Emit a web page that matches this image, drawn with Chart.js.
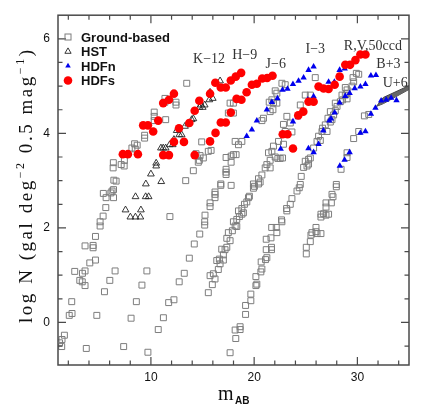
<!DOCTYPE html>
<html>
<head>
<meta charset="utf-8">
<title>Galaxy number counts</title>
<script src="https://cdn.jsdelivr.net/npm/chart.js@4.4.1/dist/chart.umd.min.js"></script>
<style>
  html, body { margin: 0; padding: 0; background: #fff; }
  #wrap { width: 436px; height: 419px; }
  canvas { display: block; }
</style>
</head>
<body>
<div id="wrap"><canvas id="countsChart" width="436" height="419"></canvas></div>
<script>
// axis ticks
const xTickLabels = [10, 20, 30];
const yTickLabels = [0, 2, 4, 6];
const xTickMarks = [2, 4, 6, 8, 10, 12, 14, 16, 18, 20, 22, 24, 26, 28, 30, 32, 34];
const yTickMarks = [-0.5, 0, 0.5, 1, 1.5, 2, 2.5, 3, 3.5, 4, 4.5, 5, 5.5, 6];

// ground-based counts [m_AB, log N]
const groundLeft = [
  [1.15,-0.43],[1.36,-0.51],[1.39,-0.36],[1.62,-0.27],[2.09,0.15],[2.36,0.19],[2.33,0.44],[2.62,1.08],
  [3.11,0.89],[3.35,0.86],[3.62,0.78],[3.62,1.09],[3.37,1.04],[3.62,1.62],[4.40,1.63],[4.40,1.58],
  [4.63,1.82],[4.08,1.26],[4.63,1.32],[5.08,2.04],[5.08,2.13],[5.37,2.25],[5.63,2.43],[5.39,2.73],
  [5.66,2.64],[6.12,2.74],[6.24,2.78],[6.38,2.81],[6.38,2.64],[6.41,3.01],[6.63,2.99],[6.36,3.38],
  [6.34,3.27],[7.12,3.34],[7.43,3.43],[7.41,3.31],[8.16,3.69],[8.42,3.78],[8.67,3.75],[8.48,3.67],
  [9.39,3.96],[9.39,3.90],[10.32,4.36],[10.32,4.45],[10.32,4.27],[11.43,4.29],[11.36,4.74],[11.36,4.66],
  [12.43,4.66],[12.43,4.60],[13.47,5.06],
  [3.74,-0.55],[4.76,0.15],[5.50,0.65],[6.02,0.89],[6.53,1.09],
  [7.36,-0.51],[8.08,0.09],[8.59,0.44],[9.13,0.79],[9.61,1.09],
  [9.71,-0.63],[10.71,-0.15],[11.21,0.10],[11.72,0.42],[12.23,0.48],[12.74,0.86],[13.23,1.04],
  [13.72,1.36],[14.20,1.66],[14.73,1.87],[15.21,2.06],[15.21,2.13],[15.24,2.27],[15.73,2.45],[15.73,2.53],
  [11.84,2.24],[13.37,3.00],[14.11,3.21],[14.59,3.39]
];
const groundMiddle = [
  [14.37,3.57],[14.76,3.53],[14.69,3.43],[15.08,3.48],[14.92,3.82],[15.56,3.62],[15.83,3.64],
  [17.28,3.49],[17.77,3.52],[17.77,3.39],[18.25,3.55],[17.28,3.24],[17.28,3.18],[17.28,3.13],
  [17.77,2.90],[16.77,2.93],[16.77,2.90],[16.21,2.76],[16.21,2.71],[16.21,2.64],
  [18.16,3.83],[18.48,3.76],[18.81,3.83],[17.99,3.55],
  [17.50,4.43],[17.99,4.43],[17.67,4.64],[17.99,4.64],
  [20.75,4.27],[20.90,4.32],[21.55,4.46],[21.82,4.50],[21.87,4.65],[22.20,4.64],[22.04,4.90],
  [22.69,5.06],[21.46,4.66],[21.72,4.71],[22.20,4.85],[23.01,5.03],
  [22.84,4.19],[23.50,4.22],[23.01,4.04],[23.66,4.03],[22.36,3.83],[22.84,3.77],[21.87,3.73],
  [21.72,3.62],[21.39,3.59],[22.04,3.50],[22.52,3.47],[21.55,3.43],[23.17,4.36],
  [15.56,0.63],[15.95,0.80],[15.73,0.99],[16.05,1.03],[16.21,0.92],[16.53,1.12],[16.38,1.31],
  [16.63,1.34],[17.02,1.32],[16.70,1.24],[16.86,1.55],[17.18,1.54],[17.35,1.59],[17.02,1.43],
  [17.35,1.78],[17.67,1.73],[17.50,1.90],[17.89,1.94],[18.32,2.03],[17.99,2.13],[18.16,2.04],
  [18.32,2.18],[18.57,2.24],[18.81,2.29],[18.96,2.32],[18.48,2.36],[18.81,2.41],[19.06,2.50],
  [19.29,2.55],[19.45,2.64],[19.54,2.67],[19.93,2.84],[20.03,2.88],[20.42,2.93],[19.93,2.93],
  [20.42,3.04],[20.75,3.12],[20.58,2.97],[21.07,3.27],[21.23,3.34],[21.55,3.27],[22.30,3.47],[22.75,3.48]
];
const groundRight = [
  [17.67,-0.64],[18.22,-0.34],[18.16,-0.16],[18.64,-0.15],[18.64,-0.09],[19.17,0.17],[19.17,0.36],
  [19.68,0.46],[19.68,0.60],[20.17,0.78],[20.26,0.81],[20.17,0.97],[20.65,1.07],[20.75,1.13],
  [20.68,1.28],[21.10,1.33],[21.23,1.37],[21.17,1.54],[21.68,1.59],[21.68,1.54],[21.17,1.76],
  [21.63,1.79],[21.70,2.01],[22.14,2.01],[22.20,1.90],[22.65,2.17],[22.69,2.13],[23.14,2.41],
  [23.17,2.36],[23.50,2.50],[23.66,2.62],[24.15,2.78],[24.37,2.85],[24.47,2.92],[24.56,3.09],
  [24.79,3.28],[25.12,3.31],[25.27,3.35],[24.95,3.41],[25.44,3.48],[25.27,3.45],
  [25.76,3.69],[26.09,3.83],[26.41,3.85],[26.24,3.94],[26.57,4.04],[26.63,4.11],[26.89,4.18],
  [27.06,4.04],[27.38,4.24],[27.54,4.29],[27.15,4.32],[27.70,4.39],[27.86,4.48],[27.38,4.46],
  [28.03,4.57],[27.86,4.64],[28.35,4.67],[28.57,4.71],[28.51,4.81],[28.83,4.81],[29.00,4.73],
  [29.00,4.85],[28.83,4.97],[29.00,4.92],[29.49,5.00],[29.64,5.09],[29.58,5.18],[30.13,5.25],[29.90,5.27],
  [24.95,4.81],[25.44,4.81],[25.92,5.18],[24.47,4.60]
];
const groundU = [
  [25.05,1.59],[25.05,1.45],[25.44,1.71],[25.50,1.85],[25.99,2.01],[25.99,1.92],[26.47,1.88],
  [26.47,2.29],[26.47,2.23],[26.96,2.27],[26.96,2.44],[26.96,2.53],[27.48,2.53],[25.60,1.90],
  [26.09,1.88],[26.73,2.30],[27.21,2.29],[27.54,2.71],[27.64,2.66],[27.96,2.92],[27.96,2.87],
  [28.42,3.24],[29.00,3.59],[29.00,3.49],[29.64,3.89],[30.13,4.04],[30.68,4.37],[31.10,4.40]
];

// HST counts
const hstCounts = [
  [7.54,2.38],[9.03,2.38],[8.01,2.23],[8.50,2.23],[8.98,2.23],[8.51,2.66],[9.49,2.66],[9.78,2.66],
  [9.51,2.93],[10.00,3.14],[10.51,3.37],[10.51,3.31],[11.00,2.98],[10.97,3.69],[11.19,3.69],[11.43,3.69],
  [11.82,3.76],[12.11,3.76],[12.23,3.87],[12.50,4.06],[12.75,3.97],[12.98,3.97],[13.30,4.15],[13.62,4.20],
  [13.95,4.29],[14.11,4.31],[14.69,4.55],[14.85,4.60],[15.02,4.55],[15.21,4.60],[15.66,4.71],[15.73,4.87],
  [15.99,4.74],[16.70,5.11]
];

// HDF north counts
const hdfnCounts = [
  [19.28,3.94],[19.78,4.08],[20.26,4.27],[21.23,4.50],[21.72,4.66],[22.26,4.74],[22.75,4.92],[23.23,4.94],
  [23.76,5.04],[24.30,5.11],[24.79,5.18],[25.27,5.34],[25.76,5.41],
  [22.57,3.67],[23.76,4.25],[24.22,4.34],[25.20,4.71],[25.76,4.78],[27.21,5.09],[27.77,5.09],[28.28,5.34],[28.77,5.37],
  [25.26,3.68],[25.76,3.60],[26.24,3.77],[26.70,4.06],[27.28,4.27],[27.45,4.31],[27.80,4.44],[28.28,4.65],
  [28.83,4.79],[29.25,4.85],[29.74,4.95],[30.29,4.99],[30.78,5.04],[31.31,5.22],[31.80,5.23],
  [28.30,3.31],[28.76,3.44],[29.25,3.60],[30.29,4.01],[30.78,4.04],[31.31,4.41],[31.75,4.54],[32.30,4.69],
  [32.79,4.71],[33.27,4.75],[33.79,4.70]
];

// HDF south counts
const hdfsCounts = [
  [7.28,3.56],[7.77,3.56],[8.74,3.56],[9.25,4.17],[9.71,4.17],[10.22,4.04],[10.71,4.27],[11.19,4.64],
  [11.75,4.71],[12.23,4.84],
  [11.19,3.54],[11.75,3.54],[12.23,3.82],[13.20,3.82],[12.72,4.11],[13.72,4.22],[14.24,4.48],[14.69,4.69],
  [15.73,4.84],[16.24,5.07],[16.77,4.97],[17.25,4.97],[17.74,5.12],[18.22,5.20],[18.74,5.28],
  [14.24,3.54],[15.73,3.83],[16.26,4.01],[16.77,4.23],[17.25,4.23],[17.74,4.44],[18.30,4.73],[18.77,4.71],
  [19.27,4.87],[19.78,5.03],[20.26,5.05],[20.78,5.16],[21.26,5.17],[21.78,5.22],
  [22.77,3.98],[23.23,3.98],[23.76,3.68],[24.27,4.38],[24.76,4.46],[25.27,4.67],[25.76,4.67],[26.24,4.99],
  [26.73,4.95],[27.21,4.94],[27.80,5.03],[28.28,5.20],[28.83,5.45],[29.29,5.45],[29.81,5.55],[30.29,5.67],[30.78,5.67]
];

// shaded U-band model wedge
const modelUpper = [[31.84,4.57],[32.52,4.76],[35.0,5.01]];
const modelLower = [[31.84,4.57],[32.52,4.63],[35.0,4.93]];

// band labels [text, m_AB, log N]
const bandLabels = [
  ["K\u221212", 15.63, 5.57],
  ["H\u22129", 19.08, 5.66],
  ["J\u22126", 22.09, 5.46],
  ["I\u22123", 25.92, 5.77],
  ["R,V,50ccd", 31.50, 5.85],
  ["B+3", 33.01, 5.46],
  ["U+6", 33.66, 5.06]
];

const legendRows = [
  { label: "Ground-based", marker: "square" },
  { label: "HST", marker: "openTriangle" },
  { label: "HDFn", marker: "blueTriangle" },
  { label: "HDFs", marker: "redCircle" }
];

const FRAME_COLOR = "#4a4a4a";
const SQUARE_COLOR = "#7d7d7d";
const toPoints = arr => arr.map(([x, y]) => ({ x, y }));

function drawMarker(ctx, type, x, y) {
  ctx.save();
  if (type === "square") {
    ctx.strokeStyle = SQUARE_COLOR;
    ctx.lineWidth = 1;
    ctx.strokeRect(x - 3, y - 3, 6, 6);
  } else if (type === "openTriangle" || type === "blueTriangle") {
    const r = type === "openTriangle" ? 3.6 : 3.2;
    ctx.beginPath();
    ctx.moveTo(x, y - r);
    ctx.lineTo(x + r * 0.866, y + r * 0.5);
    ctx.lineTo(x - r * 0.866, y + r * 0.5);
    ctx.closePath();
    if (type === "openTriangle") {
      ctx.strokeStyle = "#222";
      ctx.lineWidth = 0.9;
      ctx.stroke();
    } else {
      ctx.fillStyle = "#0000ee";
      ctx.fill();
    }
  } else {
    ctx.beginPath();
    ctx.arc(x, y, 4.3, 0, Math.PI * 2);
    ctx.fillStyle = "#ff0000";
    ctx.fill();
  }
  ctx.restore();
}

function drawYTitle(ctx) {
  const parts = [
    { text: "log N (gal deg", sup: false },
    { text: "\u22122", sup: true },
    { text: " 0.5 mag", sup: false },
    { text: "\u22121", sup: true },
    { text: ")", sup: false }
  ];
  const mainFont = '19px "Liberation Serif"';
  const supFont = '12px "Liberation Serif"';
  const totalLength = 273;
  let natural = 0;
  let count = 0;
  parts.forEach(p => {
    ctx.font = p.sup ? supFont : mainFont;
    for (const ch of p.text) {
      natural += ctx.measureText(ch).width;
      count++;
    }
  });
  const spacing = (totalLength - natural) / (count - 1);

  ctx.save();
  ctx.translate(31.5, 186.5);
  ctx.rotate(-Math.PI / 2);
  ctx.fillStyle = "#111";
  ctx.textBaseline = "alphabetic";
  ctx.textAlign = "left";
  let pos = -totalLength / 2;
  parts.forEach(p => {
    ctx.font = p.sup ? supFont : mainFont;
    for (const ch of p.text) {
      ctx.fillText(ch, pos, p.sup ? -8 : 0);
      pos += ctx.measureText(ch).width + spacing;
    }
  });
  ctx.restore();
}

function drawXTitle(ctx) {
  ctx.save();
  ctx.fillStyle = "#111";
  ctx.textBaseline = "alphabetic";
  ctx.textAlign = "left";
  ctx.font = '20px "Liberation Serif"';
  ctx.fillText("m", 218, 400);
  ctx.font = 'bold 10px "Liberation Sans"';
  ctx.fillText("AB", 235, 404);
  ctx.restore();
}

const framePlugin = {
  id: "frame",
  afterDraw(chart) {
    const ctx = chart.ctx;
    const { left, right, top, bottom } = chart.chartArea;
    const xs = chart.scales.x;
    const ys = chart.scales.y;

    ctx.save();
    ctx.strokeStyle = FRAME_COLOR;
    ctx.lineWidth = 1.5;
    ctx.strokeRect(left, top, right - left, bottom - top);

    ctx.lineWidth = 1.2;
    ctx.beginPath();
    xTickMarks.forEach(v => {
      const len = xTickLabels.includes(v) ? 8 : 4.5;
      const px = xs.getPixelForValue(v);
      ctx.moveTo(px, bottom); ctx.lineTo(px, bottom - len);
      ctx.moveTo(px, top); ctx.lineTo(px, top + len);
    });
    yTickMarks.forEach(v => {
      const len = yTickLabels.includes(v) ? 8 : 4.5;
      const py = ys.getPixelForValue(v);
      ctx.moveTo(left, py); ctx.lineTo(left + len, py);
      ctx.moveTo(right, py); ctx.lineTo(right - len, py);
    });
    ctx.stroke();

    // band labels
    ctx.fillStyle = "#333";
    ctx.font = '14px "Liberation Serif"';
    ctx.textAlign = "center";
    ctx.textBaseline = "middle";
    bandLabels.forEach(([text, x, y]) => {
      ctx.fillText(text, xs.getPixelForValue(x), ys.getPixelForValue(y));
    });

    // legend
    ctx.fillStyle = "#111";
    ctx.font = 'bold 13px "Liberation Sans"';
    ctx.textAlign = "left";
    ctx.textBaseline = "alphabetic";
    legendRows.forEach((row, i) => {
      const y = 37 + i * 14.5;
      drawMarker(ctx, row.marker, 68, y);
      ctx.fillStyle = "#111";
      ctx.fillText(row.label, 81, y + 4.6);
    });
    ctx.restore();

    drawYTitle(ctx);
    drawXTitle(ctx);
  }
};

new Chart(document.getElementById("countsChart"), {
  type: "scatter",
  data: {
    datasets: [
      {
        label: "HDFs",
        data: toPoints(hdfsCounts),
        pointStyle: "circle",
        pointRadius: 4.3,
        pointBackgroundColor: "#ff0000",
        pointBorderColor: "#ff0000",
        pointBorderWidth: 0,
        order: 0
      },
      {
        label: "HDFn",
        data: toPoints(hdfnCounts),
        pointStyle: "triangle",
        pointRadius: 3.7,
        pointBackgroundColor: "#0000ee",
        pointBorderColor: "#0000ee",
        pointBorderWidth: 0,
        order: 1
      },
      {
        label: "HST",
        data: toPoints(hstCounts),
        pointStyle: "triangle",
        pointRadius: 3.9,
        pointBackgroundColor: "rgba(0,0,0,0)",
        pointBorderColor: "#222",
        pointBorderWidth: 0.9,
        order: 2
      },
      {
        label: "Ground-based",
        data: toPoints([...groundLeft, ...groundMiddle, ...groundRight, ...groundU]),
        pointStyle: "rect",
        pointRadius: 4.2,
        pointBackgroundColor: "rgba(0,0,0,0)",
        pointBorderColor: SQUARE_COLOR,
        pointBorderWidth: 1,
        order: 3
      },
      {
        label: "U model upper",
        type: "line",
        data: toPoints(modelUpper),
        borderColor: "#444",
        borderWidth: 1,
        backgroundColor: "#666",
        pointRadius: 0,
        fill: "+1",
        tension: 0,
        order: 4
      },
      {
        label: "U model lower",
        type: "line",
        data: toPoints(modelLower),
        borderColor: "#444",
        borderWidth: 1,
        pointRadius: 0,
        fill: false,
        tension: 0,
        order: 5
      }
    ]
  },
  options: {
    responsive: false,
    animation: false,
    devicePixelRatio: 1,
    events: [],
    layout: { padding: { top: 14, right: 27, left: 0, bottom: 0 } },
    plugins: {
      legend: { display: false },
      tooltip: { enabled: false }
    },
    scales: {
      x: {
        type: "linear",
        min: 1,
        max: 35,
        afterFit: s => { s.height = 54; },
        afterBuildTicks: s => { s.ticks = xTickLabels.map(v => ({ value: v })); },
        grid: { display: false, drawTicks: false },
        border: { display: false },
        ticks: {
          padding: 5,
          color: "#111",
          autoSkip: false,
          maxRotation: 0,
          font: { family: "Liberation Sans", size: 12 },
          callback: v => String(v)
        }
      },
      y: {
        type: "linear",
        min: -0.9,
        max: 6.5,
        afterFit: s => { s.width = 58; },
        afterBuildTicks: s => { s.ticks = yTickLabels.map(v => ({ value: v })); },
        grid: { display: false, drawTicks: false },
        border: { display: false },
        ticks: {
          padding: 8,
          color: "#111",
          autoSkip: false,
          font: { family: "Liberation Sans", size: 12 },
          callback: v => String(v)
        }
      }
    }
  },
  plugins: [framePlugin]
});
</script>
</body>
</html>
